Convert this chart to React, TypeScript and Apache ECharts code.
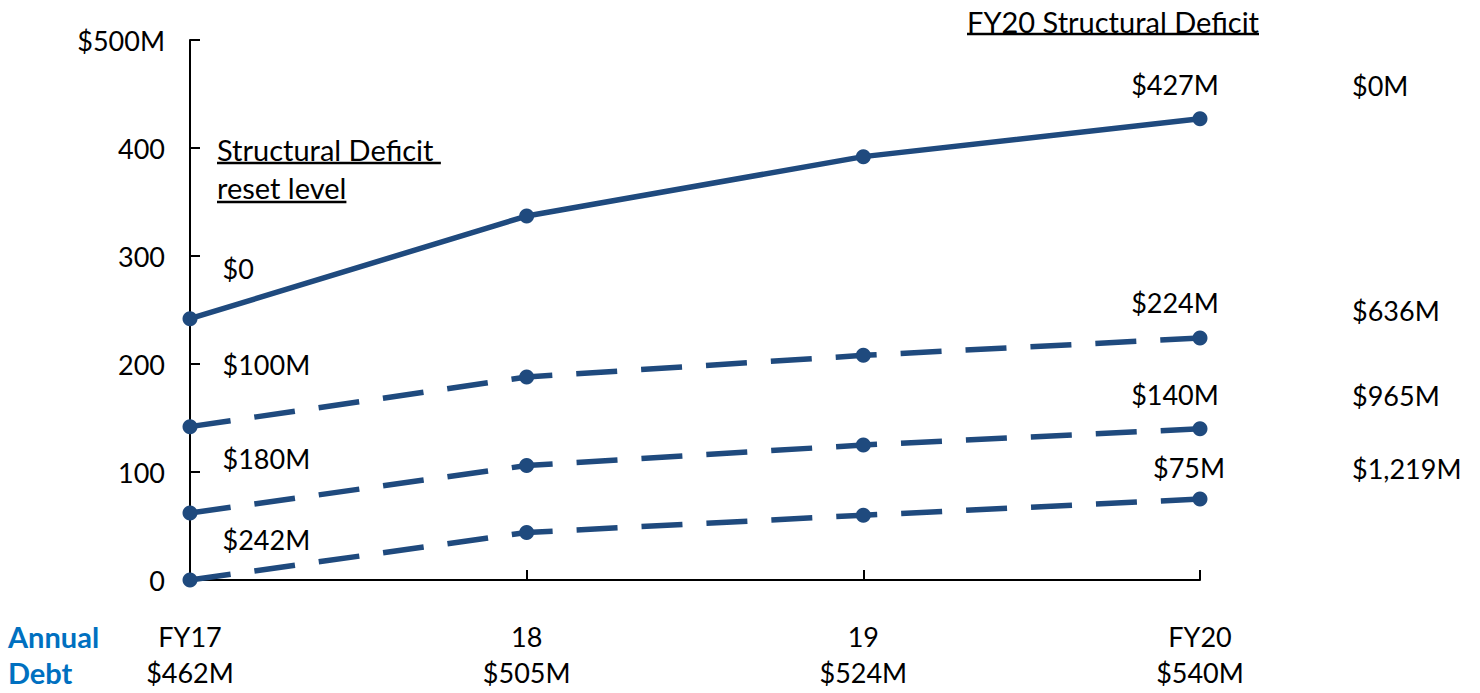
import React, { useEffect, useRef } from "react";
import * as echarts from "echarts";

// Fiscal years on the x axis and the annual debt shown under each year
const years = ["FY17", "18", "19", "FY20"];
const annualDebt = ["$462M", "$505M", "$524M", "$540M"];

// Structural deficit path ($M) for each reset level
const resetNone = [242, 337, 392, 427];
const reset100 = [142, 188, 208, 224];
const reset180 = [62, 106, 125, 140];
const reset242 = [0, 44, 60, 75];

// Reset level captions at FY17 and cumulative amounts listed to the right
const resetLevels = ["$0", "$100M", "$180M", "$242M"];
const cumulative = ["$0M", "$636M", "$965M", "$1,219M"];

const yMax = 500;
const yStep = 100;

const FONT = "Lato, 'Open Sans', sans-serif";
const FS = 27;
const HEAD_FS = 29;
const LINE_COLOR = "#1F4A7E";

function measure(text: string, size: number, weight = "normal") {
  const ctx = document.createElement("canvas").getContext("2d");
  if (!ctx) return text.length * size * 0.5;
  ctx.font = `${weight} ${size}px Lato`;
  return ctx.measureText(text).width;
}

export default function App() {
  const ref = useRef<HTMLDivElement>(null);

  useEffect(() => {
    if (!ref.current) return;
    const chart = echarts.init(ref.current, null, { renderer: "svg" });

    const seriesData = [resetNone, reset100, reset180, reset242];
    // label placements relative to the first / last point of each line
    const startOffsets = [[20, -50], [20, -62], [20, -55], [20, -41]];
    const endOffsets = [[-25, -5], [-25, -6], [-25, -5], [-11, -2]];

    const series = seriesData.map((vals, si) => ({
      type: "line",
      data: vals.map((v, i) => {
        if (i === 0) {
          return {
            value: v,
            label: {
              show: true,
              position: "right",
              offset: startOffsets[si],
              formatter: () => resetLevels[si],
            },
          };
        }
        if (i === vals.length - 1) {
          return {
            value: v,
            label: {
              show: true,
              position: "top",
              offset: endOffsets[si],
              formatter: (p: any) => `$${p.value}M`,
            },
          };
        }
        return v;
      }),
      symbol: "circle",
      symbolSize: 15,
      showSymbol: true,
      itemStyle: { color: LINE_COLOR },
      lineStyle: {
        color: LINE_COLOR,
        width: 5.5,
        type: si === 0 ? "solid" : [41, 24],
        cap: "butt",
      },
      label: {
        show: false,
        color: "#000",
        fontFamily: FONT,
        fontSize: FS,
        lineHeight: 34,
      },
      emphasis: { disabled: true },
      z: 3,
    }));

    const headLeft1 = "Structural Deficit ";
    const headLeft2 = "reset level";
    const headTop = "FY20 Structural Deficit";
    const w1 = measure(headLeft1, HEAD_FS);
    const w2 = measure(headLeft2, HEAD_FS);
    const w3 = measure(headTop, HEAD_FS);
    const underline = { stroke: "#000", lineWidth: 2.5 };
    const textStyle = (text: string, size: number) => ({
      text,
      fill: "#000",
      font: `${size}px ${FONT}`,
      verticalAlign: "middle",
    });

    const rightYs = [85, 310, 395, 468];

    chart.setOption({
      animation: false,
      grid: { left: 190, top: 40, width: 1010, height: 540, containLabel: false },
      xAxis: {
        type: "category",
        data: years,
        boundaryGap: false,
        axisLine: { lineStyle: { color: "#000", width: 2 } },
        axisTick: { inside: true, length: 10, lineStyle: { color: "#000", width: 2 } },
        axisLabel: {
          color: "#000",
          fontFamily: FONT,
          fontSize: FS,
          lineHeight: 36,
          margin: 38,
          interval: 0,
          formatter: (v: string, i: number) => `${v}\n${annualDebt[i]}`,
        },
        splitLine: { show: false },
      },
      yAxis: {
        type: "value",
        min: 0,
        max: yMax,
        interval: yStep,
        axisLine: { show: true, lineStyle: { color: "#000", width: 2 } },
        axisTick: { show: true, inside: true, length: 10, lineStyle: { color: "#000", width: 2 } },
        axisLabel: {
          color: "#000",
          fontFamily: FONT,
          fontSize: FS,
          margin: 25,
          formatter: (v: number) => (v === yMax ? `$${v}M` : `${v}`),
        },
        splitLine: { show: false },
      },
      series,
      graphic: [
        { type: "text", x: 8, y: 636, style: { text: "Annual", fill: "#0070C0", font: `bold ${HEAD_FS}px ${FONT}`, verticalAlign: "middle" } },
        { type: "text", x: 8, y: 672, style: { text: "Debt", fill: "#0070C0", font: `bold ${HEAD_FS}px ${FONT}`, verticalAlign: "middle" } },
        { type: "text", x: 217, y: 149, style: textStyle(headLeft1, HEAD_FS) },
        { type: "line", shape: { x1: 217, y1: 163, x2: 217 + w1, y2: 163 }, style: underline },
        { type: "text", x: 217, y: 187, style: textStyle(headLeft2, HEAD_FS) },
        { type: "line", shape: { x1: 217, y1: 202, x2: 217 + w2, y2: 202 }, style: underline },
        { type: "text", x: 967, y: 21, style: textStyle(headTop, HEAD_FS) },
        { type: "line", shape: { x1: 967, y1: 34, x2: 967 + w3, y2: 34 }, style: underline },
        ...cumulative.map((t, i) => ({
          type: "text",
          x: 1352,
          y: rightYs[i],
          style: textStyle(t, FS),
        })),
      ],
    });

    return () => chart.dispose();
  }, []);

  return (
    <div
      ref={ref}
      style={{ position: "fixed", left: 0, top: 0, width: 1480, height: 693, background: "#fff" }}
    />
  );
}
